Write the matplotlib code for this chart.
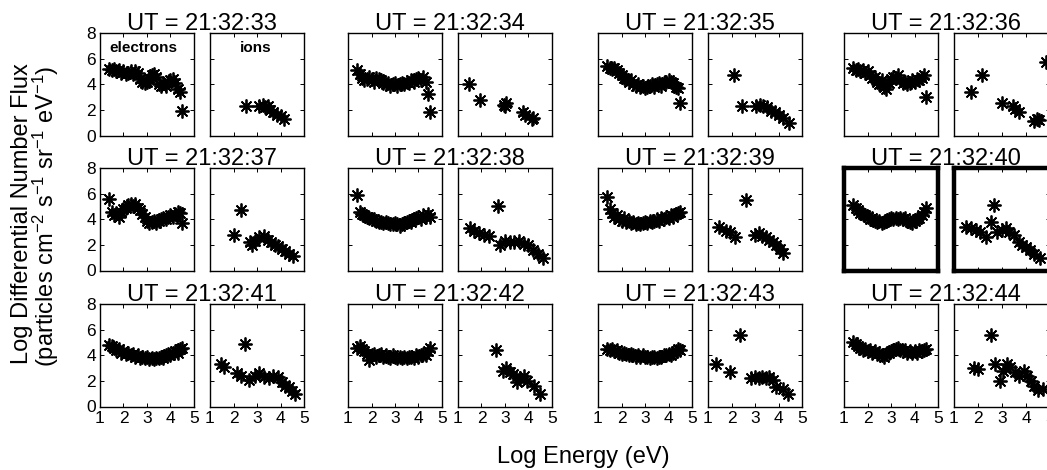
import numpy as np
import matplotlib.pyplot as plt

plt.rcParams['font.family'] = ['Liberation Sans', 'DejaVu Sans']
plt.rcParams['mathtext.fontset'] = 'custom'
plt.rcParams['mathtext.rm'] = 'Liberation Sans'
plt.rcParams['mathtext.default'] = 'regular'

times = ['21:32:33', '21:32:34', '21:32:35', '21:32:36',
         '21:32:37', '21:32:38', '21:32:39', '21:32:40',
         '21:32:41', '21:32:42', '21:32:43', '21:32:44']

# electron energy channels (log eV)
elec_energy = [1.4, 1.5, 1.6, 1.7, 1.8, 1.9, 2.0, 2.1, 2.2, 2.3, 2.4, 2.5, 2.6, 2.7, 2.8, 2.9,
               3.0, 3.1, 3.2, 3.3, 3.4, 3.5, 3.6, 3.7, 3.8, 3.9, 4.0, 4.1, 4.2, 4.3, 4.4, 4.5]

# electron log flux, one list per time
elec_33 = [5.2, 5.1, 5.2, 5.0, 5.1, 4.9, 5.0, 4.8, 4.9, 5.0, 4.8, 5.0, 4.9, 4.4, 4.2, 4.1,
           4.2, 4.5, 4.7, 4.8, 4.6, 4.0, 3.9, 4.1, 3.9, 4.2, 4.3, 4.4, 4.1, 3.6, 3.4, 1.9]
elec_34 = [5.1, 4.8, 4.5, 4.3, 4.4, 4.6, 4.4, 4.2, 4.5, 4.4, 4.3, 4.1, 4.0, 4.1, 3.9, 4.0,
           4.1, 3.9, 4.0, 4.1, 4.0, 4.2, 4.1, 4.3, 4.2, 4.4, 4.5, 4.3, 4.6, 4.2, 3.2, 1.8]
elec_35 = [5.4, 5.3, 5.2, 5.3, 5.1, 4.9, 4.7, 4.5, 4.4, 4.2, 4.3, 4.0, 3.9, 4.0, 3.8, 3.9,
           3.7, 3.8, 3.9, 4.0, 3.8, 4.0, 4.1, 3.9, 4.1, 4.2, 4.3, 4.2, 4.1, 3.8, 3.7, 2.5]
elec_36 = [5.3, 5.1, 5.2, 5.0, 5.1, 4.9, 5.0, 4.7, 4.5, 4.6, 4.2, 4.0, 4.3, 3.8, 3.6, 4.1,
           4.4, 4.6, 4.5, 4.7, 4.3, 4.1, 4.2, 4.0, 4.1, 4.3, 4.2, 4.4, 4.3, 4.5, 4.7, 3.0]
elec_37 = [5.6, 4.6, 4.3, 4.5, 4.2, 4.6, 4.8, 4.9, 5.1, 5.2, 5.0, 5.2, 4.9, 4.7, 4.4, 4.2,
           3.9, 3.7, 3.8, 3.9, 3.7, 3.9, 4.0, 4.1, 4.0, 4.2, 4.3, 4.2, 4.4, 4.6, 4.5, 3.7]
elec_38 = [5.9, 4.6, 4.4, 4.3, 4.2, 4.1, 4.0, 4.0, 3.9, 3.8, 3.8, 3.7, 3.8, 3.7, 3.6, 3.6,
           3.7, 3.6, 3.5, 3.6, 3.7, 3.8, 3.9, 3.8, 4.0, 4.1, 4.2, 4.0, 4.3, 4.2, 4.4, 4.2]
elec_39 = [5.7, 4.8, 4.5, 4.2, 4.3, 4.0, 3.9, 4.1, 3.8, 3.9, 3.7, 3.8, 3.6, 3.7, 3.6, 3.7,
           3.8, 3.7, 3.9, 3.8, 3.9, 4.0, 3.9, 4.1, 4.0, 4.2, 4.1, 4.3, 4.2, 4.4, 4.5, 4.6]
elec_40 = [5.1, 4.9, 4.7, 4.5, 4.4, 4.3, 4.2, 4.0, 4.1, 3.9, 3.8, 3.9, 3.7, 3.8, 3.9, 4.0,
           4.1, 4.0, 4.1, 4.0, 4.1, 4.0, 4.1, 3.9, 3.8, 3.7, 3.9, 4.0, 4.1, 4.3, 4.6, 4.9]
elec_41 = [4.8, 4.7, 4.6, 4.4, 4.5, 4.2, 4.3, 4.1, 4.2, 4.0, 4.1, 3.9, 4.0, 3.8, 3.9, 3.8,
           3.9, 3.7, 3.8, 3.7, 3.8, 3.8, 3.9, 3.8, 4.0, 4.1, 4.0, 4.2, 4.3, 4.2, 4.5, 4.6]
elec_42 = [4.6, 4.7, 4.5, 4.3, 4.1, 3.6, 4.0, 4.1, 3.9, 4.0, 4.1, 3.9, 4.0, 3.9, 3.8, 4.0,
           3.9, 3.8, 3.9, 3.8, 3.9, 3.8, 3.9, 3.9, 3.8, 4.0, 3.9, 4.0, 4.1, 4.0, 4.3, 4.6]
elec_43 = [4.5, 4.4, 4.5, 4.3, 4.4, 4.2, 4.1, 4.2, 4.1, 4.0, 4.1, 4.0, 3.9, 4.0, 3.9, 4.0,
           3.9, 3.9, 3.8, 3.9, 3.9, 3.8, 3.9, 3.9, 4.0, 4.0, 4.1, 4.0, 4.2, 4.3, 4.5, 4.4]
elec_44 = [5.0, 4.9, 4.7, 4.6, 4.4, 4.5, 4.3, 4.4, 4.2, 4.3, 4.1, 4.2, 4.0, 3.9, 4.1, 4.2,
           4.3, 4.4, 4.5, 4.6, 4.4, 4.3, 4.4, 4.2, 4.3, 4.2, 4.3, 4.2, 4.4, 4.3, 4.4, 4.5]

# ion energy / log flux per time
ion_e_33 = [2.55, 3.1, 3.25, 3.35, 3.45, 3.55, 3.7, 3.85, 4.0, 4.15]
ion_f_33 = [2.3, 2.3, 2.4, 2.2, 2.3, 2.0, 1.8, 1.6, 1.5, 1.3]
ion_e_34 = [1.45, 1.95, 2.95, 3.0, 3.05, 3.75, 3.85, 4.15, 4.2]
ion_f_34 = [4.0, 2.8, 2.4, 2.3, 2.5, 1.8, 1.6, 1.3, 1.4]
ion_e_35 = [2.1, 2.45, 3.05, 3.2, 3.35, 3.5, 3.7, 3.85, 4.0, 4.2, 4.45]
ion_f_35 = [4.7, 2.3, 2.3, 2.4, 2.3, 2.2, 1.9, 1.8, 1.6, 1.4, 1.0]
ion_e_36 = [1.7, 2.15, 3.0, 3.45, 3.55, 3.7, 4.35, 4.45, 4.55, 4.85]
ion_f_36 = [3.4, 4.7, 2.5, 2.3, 2.1, 1.8, 1.1, 1.3, 1.2, 5.7]
ion_e_37 = [2.0, 2.3, 2.7, 2.8, 2.9, 3.1, 3.3, 3.45, 3.6, 3.75, 3.9, 4.05, 4.2, 4.35, 4.55]
ion_f_37 = [2.8, 4.7, 2.2, 2.0, 2.3, 2.6, 2.7, 2.4, 2.2, 2.0, 1.9, 1.7, 1.5, 1.3, 1.1]
ion_e_38 = [1.5, 1.7, 1.9, 2.1, 2.3, 2.7, 2.8, 3.0, 3.2, 3.4, 3.6, 3.8, 4.0, 4.2, 4.4, 4.6]
ion_f_38 = [3.3, 3.1, 2.9, 2.8, 2.7, 5.0, 2.0, 2.3, 2.2, 2.2, 2.3, 2.1, 2.0, 1.6, 1.3, 1.0]
ion_e_39 = [1.45, 1.75, 1.95, 2.15, 2.6, 3.0, 3.15, 3.3, 3.45, 3.6, 3.75, 3.9, 4.05, 4.2]
ion_f_39 = [3.4, 3.1, 3.0, 2.6, 5.5, 2.8, 2.9, 2.7, 2.6, 2.4, 2.2, 2.0, 1.7, 1.4]
ion_e_40 = [1.5, 1.7, 1.9, 2.1, 2.35, 2.55, 2.65, 2.8, 3.0, 3.15, 3.3, 3.5, 3.7, 3.85,
            4.0, 4.15, 4.35, 4.6]
ion_f_40 = [3.4, 3.3, 3.2, 3.0, 2.6, 3.8, 5.1, 3.0, 3.2, 3.3, 3.0, 2.8, 2.2, 2.0,
            1.8, 1.6, 1.3, 1.0]
ion_e_41 = [1.45, 1.6, 2.15, 2.3, 2.5, 2.65, 2.9, 3.1, 3.3, 3.5, 3.7, 3.9, 4.05, 4.2,
            4.35, 4.5, 4.6]
ion_f_41 = [3.3, 3.1, 2.6, 2.4, 4.9, 2.1, 2.4, 2.6, 2.3, 2.2, 2.4, 2.3, 1.9, 1.6,
            1.5, 1.2, 1.0]
ion_e_42 = [2.6, 2.9, 3.05, 3.2, 3.35, 3.5, 3.65, 3.8, 3.95, 4.25, 4.5]
ion_f_42 = [4.4, 2.8, 3.0, 2.7, 2.5, 1.9, 2.2, 2.4, 2.0, 1.6, 1.0]
ion_e_43 = [1.35, 1.95, 2.35, 2.85, 3.0, 3.15, 3.3, 3.45, 3.6, 3.75, 3.9, 4.2, 4.4]
ion_f_43 = [3.3, 2.7, 5.6, 2.2, 2.3, 2.2, 2.3, 2.2, 2.3, 2.1, 1.5, 1.4, 1.0]
ion_e_44 = [1.85, 2.0, 2.55, 2.7, 2.9, 3.05, 3.2, 3.35, 3.55, 3.7, 3.9, 4.05, 4.2, 4.35,
            4.5, 4.7]
ion_f_44 = [3.0, 2.9, 5.6, 3.3, 2.0, 2.8, 3.3, 3.1, 2.7, 2.4, 2.8, 2.4, 2.0, 1.6,
            1.3, 1.4]

elec_all = [elec_33, elec_34, elec_35, elec_36, elec_37, elec_38,
            elec_39, elec_40, elec_41, elec_42, elec_43, elec_44]
ion_e_all = [ion_e_33, ion_e_34, ion_e_35, ion_e_36, ion_e_37, ion_e_38,
             ion_e_39, ion_e_40, ion_e_41, ion_e_42, ion_e_43, ion_e_44]
ion_f_all = [ion_f_33, ion_f_34, ion_f_35, ion_f_36, ion_f_37, ion_f_38,
             ion_f_39, ion_f_40, ion_f_41, ion_f_42, ion_f_43, ion_f_44]

W, H = 1047, 470
fig = plt.figure(figsize=(W / 100, H / 100), dpi=100)

col_left = [100, 348, 598, 844]   # pixel positions of electron panels
row_top = [33, 168, 304]
pw, ph = 94, 102.5
ion_gap = 110
highlight = 7   # 21:32:40 gets the thick frame

star = (8, 2, 0)   # matlab style asterisk


def box(x, y, w, h):
    return [x / W, 1 - (y + h) / H, w / W, h / H]


def style(ax, xlab, ylab, thick=False):
    ax.set_xlim(1, 5)
    ax.set_ylim(0, 8)
    ax.set_xticks([1, 2, 3, 4, 5])
    ax.set_yticks([0, 2, 4, 6, 8])
    ax.tick_params(direction='in', length=3, width=0.7, top=True, right=True,
                   labelsize=12.5, pad=3,
                   labelbottom=xlab, labelleft=ylab)
    for s in ax.spines.values():
        s.set_linewidth(3.2 if thick else 1.0)


for i, t in enumerate(times):
    r, c = i // 4, i % 4
    x0, y0 = col_left[c], row_top[r]
    thick = (i == highlight)
    bottom_row = (r == 2)

    ax_e = fig.add_axes(box(x0, y0, pw, ph))
    ax_e.plot(elec_energy, elec_all[i], linestyle='none', marker=star,
              ms=10, mew=1.3, color='k')
    style(ax_e, bottom_row, c == 0, thick)

    ax_i = fig.add_axes(box(x0 + ion_gap, y0, pw + (2 if c == 3 else 0), ph))
    ax_i.plot(ion_e_all[i], ion_f_all[i], linestyle='none', marker=star,
              ms=10, mew=1.3, color='k')
    style(ax_i, bottom_row, False, thick)

    if i == 0:
        ax_e.text(2.85, 6.85, 'electrons', ha='center', va='center',
                  fontsize=11, fontweight='bold')
        ax_i.text(2.95, 6.85, 'ions', ha='center', va='center',
                  fontsize=11, fontweight='bold')

    cx = (x0 + x0 + ion_gap + pw) / 2
    fig.text(cx / W, 1 - (y0 - 3) / H, 'UT = ' + t, ha='center', va='baseline',
             fontsize=17)

fig.text(22 / W, 1 - 214 / H, 'Log Differential Number Flux', rotation=90,
         ha='center', va='center', fontsize=17)
fig.text(46 / W, 1 - 216 / H,
         r'(particles cm$^{-2}$ s$^{-1}$ sr$^{-1}$ eV$^{-1}$)', rotation=90,
         ha='center', va='center', fontsize=17)
fig.text(583 / W, 1 - 457 / H, 'Log Energy (eV)', ha='center', va='center',
         fontsize=17)

fig.savefig('out.png', dpi=100)
